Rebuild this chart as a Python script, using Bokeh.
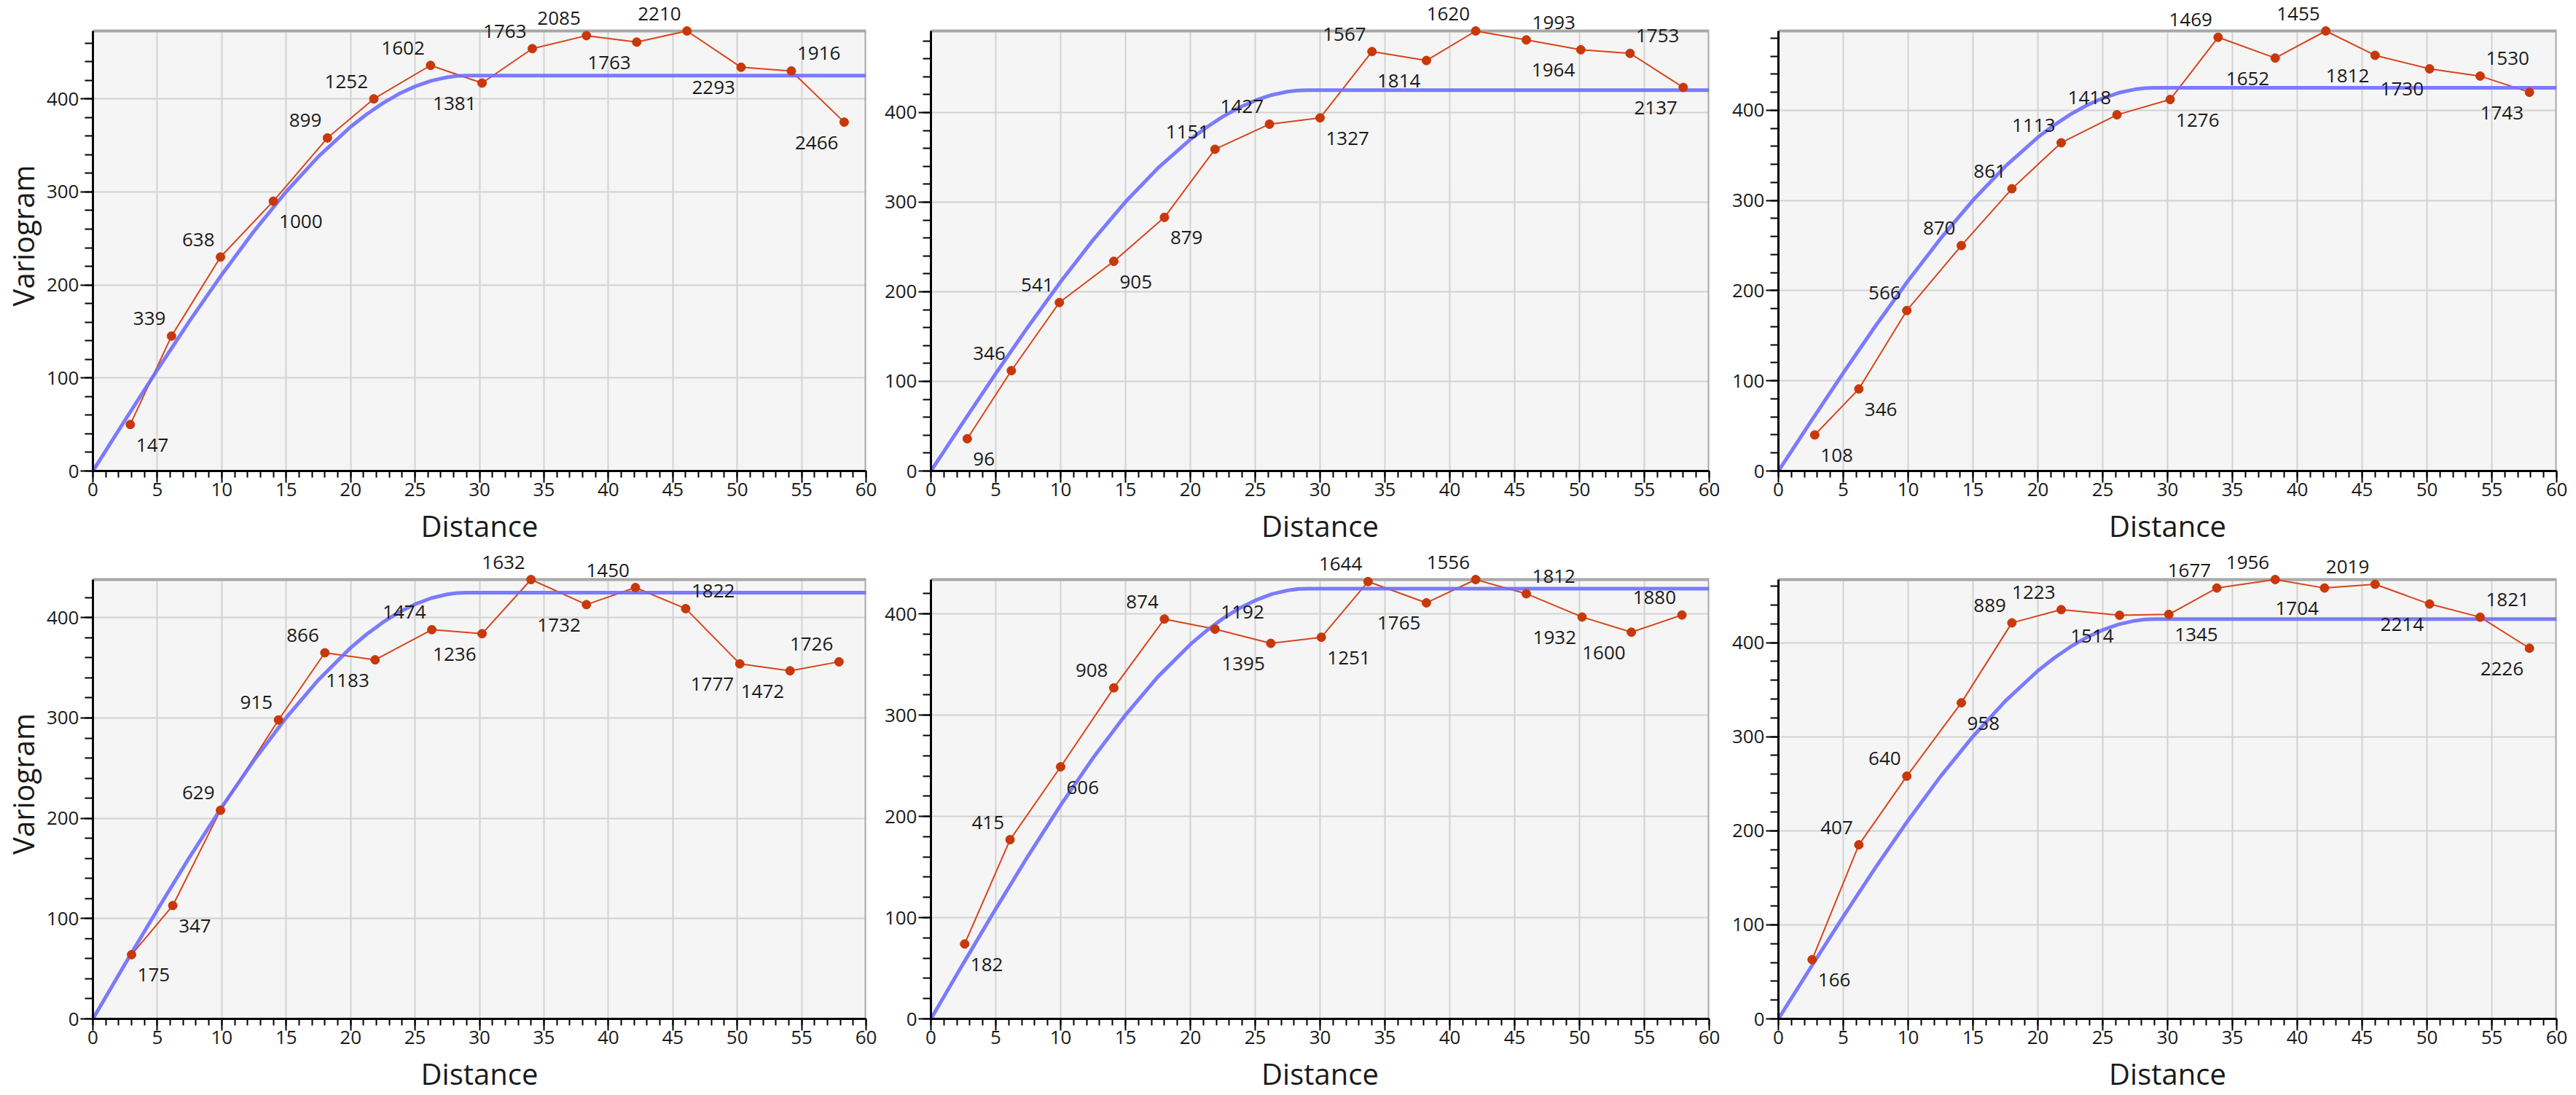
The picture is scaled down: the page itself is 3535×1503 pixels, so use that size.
from bokeh.plotting import figure
from bokeh.layouts import column, row
from bokeh.models import Range1d, SingleIntervalTicker, ColumnDataSource, LabelSet
from bokeh.embed import file_html
from bokeh.resources import INLINE
from bokeh.core.properties import value

FONT = "Open Sans"
RED_LINE = "#d9441a"
RED_DOT = "#c8380a"
BLUE = "#6e6eff"
TXT = "#1a1a1a"
PANEL_BG = "#f5f5f5"
BORDER = "#a8a8a8"
GRID = "#d2d2d2"

# fitted model curve (same in every panel)
MODEL_DIST = [0, 2.5, 5, 7.5, 10, 12.5, 15, 17.5, 20, 21.25, 22.5, 23.75, 25, 26.25, 27.5, 28.25, 29, 60]
MODEL_GAMMA = [0, 54.8, 108.8, 161.2, 211.1, 257.8, 300.3, 338.0, 370.0, 383.5, 395.4, 405.4, 413.4, 419.5, 423.3, 424.6, 425, 425]

X_MIN, X_MAX = 0, 60
X_GRID = [5, 10, 15, 20, 25, 30, 35, 40, 45, 50, 55]

# panel 1
DIST_1 = [2.9, 6.1, 9.9, 14.0, 18.2, 21.8, 26.2, 30.2, 34.1, 38.3, 42.2, 46.1, 50.3, 54.2, 58.3]
GAMMA_1 = [50, 145, 230, 290, 358, 400, 436, 417, 454, 468, 461, 473, 434, 430, 375]
PAIRS_1 = [147, 339, 638, 1000, 899, 1252, 1602, 1381, 1763, 2085, 1763, 2210, 2293, 1916, 2466]
PLACE_1 = ["BR", "AL", "AL", "BR", "AL", "AL", "AL", "BL", "AL", "AL", "BL", "AL", "BL", "AR", "BL"]

# panel 2
DIST_2 = [2.8, 6.2, 9.9, 14.1, 18.0, 21.9, 26.1, 30.0, 34.0, 38.2, 42.0, 45.9, 50.1, 53.9, 58.0]
GAMMA_2 = [36, 112, 188, 234, 283, 359, 387, 394, 468, 458, 491, 481, 470, 466, 428]
PAIRS_2 = [96, 346, 541, 905, 879, 1151, 1427, 1327, 1567, 1814, 1620, 1993, 1964, 1753, 2137]
PLACE_2 = ["BR", "AL", "AL", "BR", "BR", "AL", "AL", "BR", "AL", "BL", "AL", "AR", "BL", "AR", "BL"]

# panel 3
DIST_3 = [2.8, 6.2, 9.9, 14.1, 18.0, 21.8, 26.1, 30.2, 33.9, 38.3, 42.2, 46.0, 50.2, 54.1, 57.9]
GAMMA_3 = [40, 91, 178, 250, 313, 364, 395, 412, 481, 458, 488, 461, 446, 438, 420]
PAIRS_3 = [108, 346, 566, 870, 861, 1113, 1418, 1276, 1469, 1652, 1455, 1812, 1730, 1530, 1743]
PLACE_3 = ["BR", "BR", "AL", "AL", "AL", "AL", "AL", "BR", "AL", "BL", "AL", "BL", "BL", "AR", "BL"]

# panel 4
DIST_4 = [3.0, 6.2, 9.9, 14.4, 18.0, 21.9, 26.3, 30.2, 34.0, 38.3, 42.1, 46.0, 50.2, 54.1, 57.9]
GAMMA_4 = [64, 113, 208, 298, 365, 358, 388, 384, 438, 413, 430, 409, 354, 347, 356]
PAIRS_4 = [175, 347, 629, 915, 866, 1183, 1474, 1236, 1632, 1732, 1450, 1822, 1777, 1472, 1726]
PLACE_4 = ["BR", "BR", "AL", "AL", "AL", "BL", "AL", "BL", "AL", "BL", "AL", "AR", "BL", "BL", "AL"]

# panel 5
DIST_5 = [2.6, 6.1, 10.0, 14.1, 18.0, 21.9, 26.2, 30.1, 33.7, 38.2, 42.0, 45.9, 50.2, 54.0, 57.9]
GAMMA_5 = [74, 177, 249, 327, 395, 385, 371, 377, 432, 411, 434, 420, 397, 382, 399]
PAIRS_5 = [182, 415, 606, 908, 874, 1192, 1395, 1251, 1644, 1765, 1556, 1812, 1932, 1600, 1880]
PLACE_5 = ["BR", "AL", "BR", "AL", "AL", "AR", "BL", "BR", "AL", "BL", "AL", "AR", "BL", "BL", "AL"]

# panel 6
DIST_6 = [2.6, 6.2, 9.9, 14.1, 18.0, 21.8, 26.3, 30.1, 33.8, 38.3, 42.1, 46.0, 50.2, 54.1, 57.9]
GAMMA_6 = [63, 185, 258, 336, 421, 435, 429, 430, 458, 467, 458, 462, 441, 427, 394]
PAIRS_6 = [166, 407, 640, 958, 889, 1223, 1514, 1345, 1677, 1956, 1704, 2019, 2214, 1821, 2226]
PLACE_6 = ["BR", "AL", "AL", "BR", "AL", "AL", "BL", "BR", "AL", "AL", "BL", "AL", "BL", "AR", "BL"]

X_LABEL = "Distance"
Y_LABEL = "Variogram"

# placement styles: (align, x_offset, y_offset)
PLACEMENT = {
    "AL": ("right", -8, 15),
    "AR": ("left", 8, 15),
    "BL": ("right", -8, -37),
    "BR": ("left", 8, -37),
}


def make_panel(dist, gamma, pairs, place, show_ylabel, w, h, bl, br, top_pad, bb):
    ymax = max(gamma)
    frame_h = h - bb
    plot_h = frame_h - top_pad
    y_end = ymax * frame_h / plot_h  # leave room above the plot area for labels
    p = figure(width=w, height=h, output_backend="svg", toolbar_location=None,
               x_range=Range1d(X_MIN, X_MAX), y_range=Range1d(0, y_end),
               min_border_left=bl, min_border_right=br,
               min_border_top=0, min_border_bottom=bb,
               background_fill_color="white", border_fill_color="white",
               outline_line_color=None)
    # plot-area background
    p.quad(left=X_MIN, right=X_MAX, bottom=0, top=ymax, fill_color=PANEL_BG,
           line_color=None, level="image")

    xt = SingleIntervalTicker(interval=5, num_minor_ticks=5)
    yt = SingleIntervalTicker(interval=100, num_minor_ticks=5)
    p.xaxis.ticker = xt
    p.yaxis.ticker = yt
    p.xgrid.ticker = xt
    p.ygrid.ticker = yt
    for g in (p.xgrid, p.ygrid):
        g.grid_line_color = GRID
        g.grid_line_width = 2
    p.ygrid.bounds = (0, ymax)
    try:
        p.xgrid.cross_bounds = (0, ymax)
    except Exception:
        p.xgrid.visible = False
        p.segment(x0=X_GRID, y0=[0] * len(X_GRID), x1=X_GRID, y1=[ymax] * len(X_GRID),
                  line_color=GRID, line_width=2, level="underlay")

    for ax in (p.xaxis, p.yaxis):
        ax.axis_line_color = "black"
        ax.axis_line_width = 3
        ax.major_tick_line_color = "black"
        ax.major_tick_line_width = 2
        ax.minor_tick_line_color = "black"
        ax.minor_tick_line_width = 2
        ax.major_tick_in = 0
        ax.minor_tick_in = 0
        ax.major_label_text_font = FONT
        ax.major_label_text_font_size = "26px"
        ax.major_label_text_color = TXT
        ax.axis_label_text_font = FONT
        ax.axis_label_text_font_size = "40px"
        ax.axis_label_text_font_style = "normal"
        ax.axis_label_text_color = TXT
    p.yaxis.bounds = (0, ymax)
    p.xaxis.major_tick_out = 16
    p.xaxis.minor_tick_out = 9
    p.yaxis.major_tick_out = 17
    p.yaxis.minor_tick_out = 11
    p.xaxis.major_label_standoff = 0
    p.yaxis.major_label_standoff = 2
    p.xaxis.axis_label = X_LABEL
    p.xaxis.axis_label_standoff = 10
    if show_ylabel:
        p.yaxis.axis_label = Y_LABEL
        p.yaxis.axis_label_standoff = 2

    # top and right border of the plot area
    p.line([X_MIN, X_MAX, X_MAX], [ymax, ymax, 0], line_color=BORDER, line_width=4)

    p.line(dist, gamma, line_color=RED_LINE, line_width=2)
    p.line(MODEL_DIST, MODEL_GAMMA, line_color=BLUE, line_width=5, line_alpha=0.9)
    p.scatter(dist, gamma, size=12, fill_color=RED_DOT, line_color=RED_DOT)

    for key, (align, xo, yo) in PLACEMENT.items():
        idx = [i for i, k in enumerate(place) if k == key]
        if not idx:
            continue
        src = ColumnDataSource(dict(x=[dist[i] for i in idx], y=[gamma[i] for i in idx],
                                    t=[str(pairs[i]) for i in idx]))
        ls = LabelSet(x="x", y="y", text="t", source=src, x_offset=xo, y_offset=yo,
                      text_align=align, text_baseline="alphabetic",
                      text_font=value(FONT), text_font_size="26px", text_color=TXT)
        p.add_layout(ls)
    return p


p1 = make_panel(DIST_1, GAMMA_1, PAIRS_1, PLACE_1, True, 1208, 753, 121, 20, 42, 107)
p2 = make_panel(DIST_2, GAMMA_2, PAIRS_2, PLACE_2, False, 1159, 753, 69, 22, 42, 107)
p3 = make_panel(DIST_3, GAMMA_3, PAIRS_3, PLACE_3, False, 1168, 753, 73, 27, 42, 107)
p4 = make_panel(DIST_4, GAMMA_4, PAIRS_4, PLACE_4, True, 1208, 750, 121, 20, 42, 105)
p5 = make_panel(DIST_5, GAMMA_5, PAIRS_5, PLACE_5, False, 1159, 750, 69, 22, 42, 105)
p6 = make_panel(DIST_6, GAMMA_6, PAIRS_6, PLACE_6, False, 1168, 750, 73, 27, 42, 105)

layout = column(row(p1, p2, p3, spacing=0), row(p4, p5, p6, spacing=0), spacing=0)

open("out.html", "w").write(file_html(layout, INLINE))
